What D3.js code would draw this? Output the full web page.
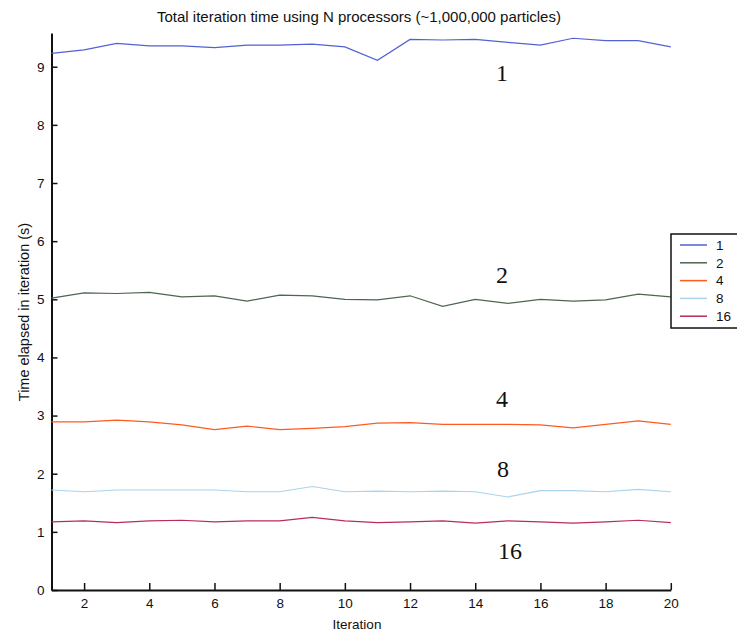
<!DOCTYPE html>
<html>
<head>
<meta charset="utf-8">
<script src="https://cdn.jsdelivr.net/npm/d3@7"></script>
<style>
  html, body { margin: 0; padding: 0; background: #fff; }
  svg { display: block; }
  text { font-family: "Liberation Sans", Arial, sans-serif; fill: #111; }
</style>
</head>
<body>
<script>
// Iteration numbers and elapsed time (s) per iteration for each processor count
const iterations = [1,2,3,4,5,6,7,8,9,10,11,12,13,14,15,16,17,18,19,20];
const procCounts = ["1", "2", "4", "8", "16"];
const time1  = [9.23,9.29,9.40,9.36,9.36,9.33,9.37,9.37,9.39,9.34,9.11,9.47,9.46,9.47,9.42,9.37,9.49,9.45,9.45,9.34];
const time2  = [5.02,5.11,5.10,5.12,5.04,5.06,4.97,5.07,5.06,5.00,4.99,5.06,4.88,5.00,4.93,5.00,4.97,4.99,5.09,5.04];
const time4  = [2.89,2.89,2.92,2.89,2.84,2.76,2.82,2.76,2.78,2.81,2.87,2.88,2.85,2.85,2.85,2.84,2.79,2.85,2.91,2.85];
const time8  = [1.72,1.69,1.72,1.72,1.72,1.72,1.69,1.69,1.78,1.69,1.70,1.69,1.70,1.69,1.60,1.71,1.71,1.69,1.73,1.69];
const time16 = [1.17,1.19,1.16,1.19,1.20,1.17,1.19,1.19,1.25,1.19,1.16,1.17,1.19,1.15,1.19,1.17,1.15,1.17,1.20,1.16];
const xTicks = [2,4,6,8,10,12,14,16,18,20];
const yTicks = [0,1,2,3,4,5,6,7,8,9];

const W = 737, H = 631;
const series = [time1, time2, time4, time8, time16];
const colors = ["#5262d2", "#4d6650", "#ff5a22", "#a9d4ec", "#b82c5c"];

// in-plot annotation anchors (iteration, seconds) for each curve's label
const annoAt = [[14.82, 8.75], [14.82, 5.28], [14.82, 3.15], [14.85, 1.95], [15.07, 0.53]];

const svg = d3.select("body").append("svg").attr("width", W).attr("height", H);

const x = d3.scaleLinear().domain([1, 20]).range([51.5, 670.8]);
const y = d3.scaleLinear().domain([0, 9.58]).range([590, 33]);

// title
svg.append("text")
  .attr("x", 359).attr("y", 22)
  .attr("text-anchor", "middle")
  .style("font-size", "15px")
  .text("Total iteration time using N processors (~1,000,000 particles)");

// axes with inward ticks
const xAxis = svg.append("g").attr("transform", "translate(0,590)")
  .call(d3.axisBottom(x).tickValues(xTicks).tickSizeInner(-7).tickSizeOuter(0).tickPadding(8));
const yAxis = svg.append("g").attr("transform", "translate(51.5,0)")
  .call(d3.axisLeft(y).tickValues(yTicks).tickSizeInner(-6).tickSizeOuter(0).tickPadding(7));

[xAxis, yAxis].forEach(g => {
  g.select(".domain").attr("stroke", "#111").attr("stroke-width", 2);
  g.selectAll(".tick line").attr("stroke", "#111").attr("stroke-width", 1.5);
  g.selectAll(".tick text").style("font-size", "13.5px").style("font-family", "'Liberation Sans', Arial, sans-serif").attr("fill", "#111");
});

// axis titles
svg.append("text")
  .attr("x", 357).attr("y", 629)
  .attr("text-anchor", "middle")
  .style("font-size", "13.5px")
  .text("Iteration");

svg.append("text")
  .attr("transform", "translate(29,312) rotate(-90)")
  .attr("text-anchor", "middle")
  .style("font-size", "14.5px")
  .text("Time elapsed in iteration (s)");

// curves
const line = d3.line().x((d, i) => x(iterations[i])).y(d => y(d));
svg.append("g").selectAll("path").data(series).join("path")
  .attr("d", d => line(d))
  .attr("fill", "none")
  .attr("stroke", (d, i) => colors[i])
  .attr("stroke-width", 1.2);

// curve labels
svg.append("g").selectAll("text").data(procCounts).join("text")
  .attr("x", (d, i) => x(annoAt[i][0]))
  .attr("y", (d, i) => y(annoAt[i][1]))
  .attr("text-anchor", "middle")
  .style("font-family", "'Liberation Serif', 'Times New Roman', serif")
  .style("font-size", "24px")
  .text(d => d);

// legend
const lg = svg.append("g").attr("transform", "translate(671,234)");
lg.append("rect").attr("x", 0).attr("y", 0).attr("width", 90).attr("height", 94)
  .attr("fill", "#fff").attr("stroke", "#111").attr("stroke-width", 1.5);
const rows = lg.selectAll("g.row").data(procCounts).join("g")
  .attr("class", "row")
  .attr("transform", (d, i) => `translate(0,${11 + i * 17.8})`);
rows.append("line").attr("x1", 9).attr("x2", 36).attr("y1", 0).attr("y2", 0)
  .attr("stroke", (d, i) => colors[i]).attr("stroke-width", 1.5);
rows.append("text").attr("x", 45).attr("y", 0).attr("dy", "0.35em")
  .style("font-size", "13.5px").text(d => d);
</script>
</body>
</html>
